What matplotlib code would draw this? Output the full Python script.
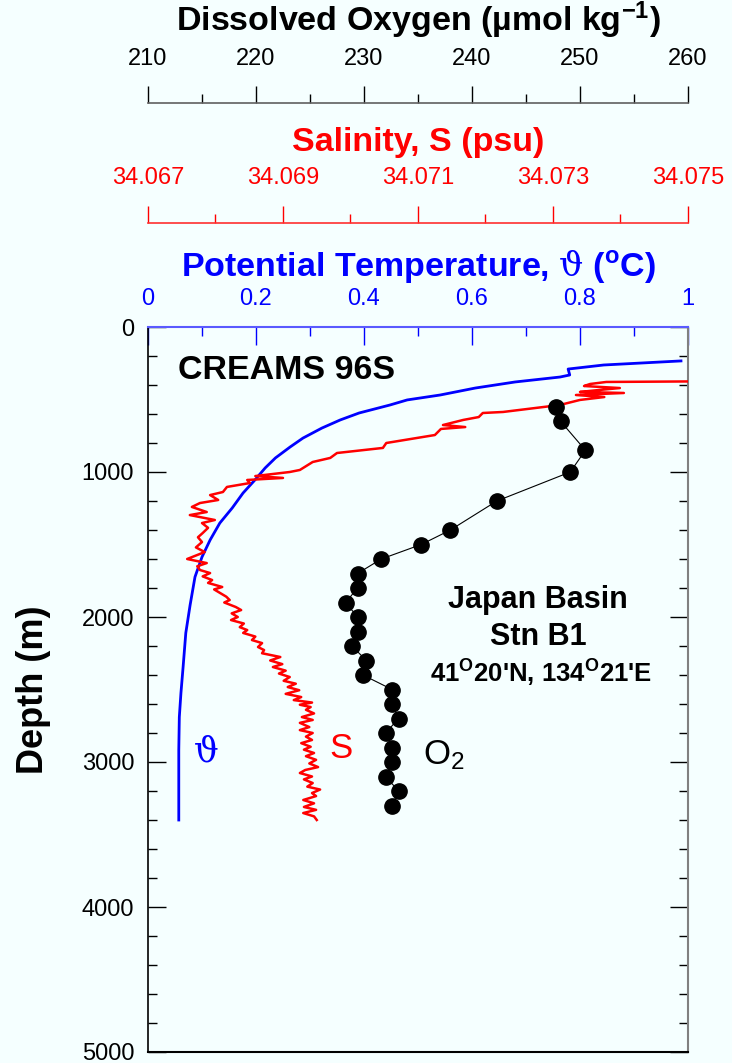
import matplotlib
matplotlib.use('Agg')
import matplotlib.pyplot as plt
from matplotlib.ticker import MultipleLocator, FixedLocator

plt.rcParams['font.family'] = ['Liberation Sans', 'DejaVu Sans']
plt.rcParams['mathtext.fontset'] = 'custom'
plt.rcParams['mathtext.rm'] = 'DejaVu Serif'
plt.rcParams['mathtext.sf'] = 'Liberation Sans'
plt.rcParams['mathtext.it'] = 'Liberation Sans:italic'
plt.rcParams['mathtext.bf'] = 'Liberation Sans:bold'

BG = '#F5FFFF'

# potential temperature profile (deg C vs depth m)
theta_depth = [234, 262, 290, 331, 345, 379, 421, 469, 503, 538, 593, 641, 697, 766, 828,
               903, 972, 1055, 1145, 1248, 1352, 1469, 1586, 1724, 1917, 2110, 2345, 2524,
               2690, 2917, 3400]
theta = [0.987, 0.844, 0.778, 0.781, 0.763, 0.680, 0.606, 0.541, 0.480, 0.448, 0.391, 0.356,
         0.322, 0.287, 0.263, 0.236, 0.217, 0.198, 0.176, 0.156, 0.133, 0.115, 0.100, 0.087,
         0.078, 0.070, 0.065, 0.061, 0.058, 0.057, 0.057]

# salinity profile (psu vs depth m)
sal_depth = [372, 379, 393, 407, 421, 435, 448, 455, 469, 483, 503, 538, 559, 586, 593, 621,
             641, 676, 690, 703, 745, 800, 834, 869, 903, 931, 986, 1000, 1028, 1041, 1055,
             1076, 1103, 1138, 1159, 1193, 1214, 1241, 1260, 1276, 1297, 1331, 1352, 1385,
             1421, 1450, 1483, 1520, 1552, 1600, 1628, 1650, 1676, 1697, 1720, 1745, 1765,
             1793, 1810, 1835, 1860, 1883, 1900, 1931, 1952, 1975, 2000, 2021, 2045, 2070,
             2090, 2110, 2135, 2159, 2180, 2207, 2228, 2250, 2276, 2300, 2325, 2345, 2370,
             2390, 2414, 2440, 2460, 2483, 2505, 2530, 2552, 2573, 2590, 2605, 2621, 2640,
             2665, 2690, 2710, 2730, 2759, 2780, 2800, 2825, 2848, 2870, 2895, 2915, 2938,
             2960, 2985, 3010, 3035, 3055, 3076, 3100, 3120, 3145, 3170, 3190, 3214, 3235,
             3262, 3285, 3310, 3330, 3352, 3375, 3400]
sal = [34.07620, 34.07379, 34.07355, 34.07346, 34.07399, 34.07367, 34.07340, 34.07405,
       34.07334, 34.07376, 34.07340, 34.07310, 34.07273, 34.07226, 34.07196, 34.07190,
       34.07167, 34.07137, 34.07170, 34.07134, 34.07125, 34.07053, 34.07048, 34.06980,
       34.06970, 34.06944, 34.06925, 34.06910, 34.06859, 34.06900, 34.06847, 34.06851,
       34.06817, 34.06811, 34.06792, 34.06804, 34.06777, 34.06765, 34.06777, 34.06787,
       34.06762, 34.06799, 34.06780, 34.06789, 34.06781, 34.06774, 34.06780, 34.06771,
       34.06784, 34.06758, 34.06787, 34.06773, 34.06777, 34.06792, 34.06781, 34.06795,
       34.06789, 34.06810, 34.06798, 34.06807, 34.06816, 34.06821, 34.06813, 34.06830,
       34.06838, 34.06824, 34.06833, 34.06823, 34.06842, 34.06836, 34.06847, 34.06841,
       34.06859, 34.06854, 34.06869, 34.06863, 34.06872, 34.06869, 34.06896, 34.06881,
       34.06899, 34.06885, 34.06904, 34.06894, 34.06910, 34.06901, 34.06919, 34.06907,
       34.06924, 34.06904, 34.06927, 34.06916, 34.06943, 34.06925, 34.06941, 34.06934,
       34.06946, 34.06928, 34.06944, 34.06925, 34.06939, 34.06925, 34.06944, 34.06934,
       34.06943, 34.06927, 34.06941, 34.06931, 34.06946, 34.06934, 34.06949, 34.06939,
       34.06952, 34.06933, 34.06925, 34.06943, 34.06931, 34.06944, 34.06936, 34.06955,
       34.06943, 34.06949, 34.06930, 34.06946, 34.06931, 34.06949, 34.06930, 34.06946,
       34.06950]

# dissolved oxygen bottle samples (umol/kg vs depth m)
oxy_depth = [550, 650, 850, 1000, 1200, 1400, 1500, 1600, 1700, 1800, 1900, 2000, 2100,
             2200, 2300, 2400, 2500, 2600, 2700, 2800, 2900, 3000, 3100, 3200, 3300]
oxy = [247.8, 248.2, 250.5, 249.1, 242.3, 238.0, 235.3, 231.6, 229.4, 229.4, 228.3, 229.4,
       229.4, 228.9, 230.2, 229.9, 232.6, 232.6, 233.2, 232.0, 232.6, 232.6, 232.0, 233.2,
       232.6]

sal_ticks = [34.067, 34.069, 34.071, 34.073, 34.075]
sal_minor = [34.068, 34.070, 34.072, 34.074]

W, H = 732, 1063
fig = plt.figure(figsize=(W / 100, H / 100), dpi=100, facecolor=BG)
ax = fig.add_axes([148 / W, 1 - 1052 / H, 540 / W, 725 / H])
ax.set_facecolor(BG)
ax2 = ax.twiny()
ax3 = ax.twiny()

# temperature on main axes
ax.plot(theta, theta_depth, color='#0000FF', lw=2.0, zorder=3)
ax.set_xlim(0, 1)
ax.set_ylim(5000, 0)
ax.xaxis.tick_top()
ax.xaxis.set_label_position('top')
ax.xaxis.set_major_locator(MultipleLocator(0.2))
ax.xaxis.set_minor_locator(MultipleLocator(0.1))
ax.xaxis.set_major_formatter(lambda v, p: '0' if abs(v) < 1e-9 else ('1' if abs(v - 1) < 1e-9 else f'{v:.1f}'))
ax.yaxis.set_major_locator(MultipleLocator(1000))
ax.yaxis.set_minor_locator(MultipleLocator(200))
ax.tick_params(axis='x', which='both', direction='in', colors='#0000FF', labelsize=17, pad=12,
               top=True, bottom=False, labeltop=True, labelbottom=False)
ax.tick_params(axis='x', which='major', length=13, width=1)
ax.tick_params(axis='x', which='minor', length=6.5, width=1)
ax.tick_params(axis='y', which='both', direction='in', right=True, left=True,
               labelsize=17, pad=10, width=1, color='black')
ax.tick_params(axis='y', which='major', length=13)
ax.tick_params(axis='y', which='minor', length=6.5)
ax.set_xlabel(r'Potential Temperature, $\mathrm{\vartheta}$ ($^{\mathbf{o}}$C)', color='#0000FF',
              fontsize=24.5, fontweight='bold', labelpad=9)
ax.set_ylabel('Depth (m)', fontsize=26, fontweight='bold', labelpad=22)
ax.spines['top'].set_color('#5A5AFF')
ax.spines['top'].set_linewidth(1.5)
ax.spines['left'].set_linewidth(1.2)
ax.spines['bottom'].set_linewidth(1.5)
ax.spines['right'].set_color('#808080')
ax.spines['right'].set_linewidth(1.5)

# salinity axis
ax2.plot(sal, sal_depth, color='#FF0000', lw=1.8, zorder=3)
ax2.set_xlim(34.067, 34.075)
ax2.set_ylim(5000, 0)
for s in ['left', 'right', 'bottom']:
    ax2.spines[s].set_visible(False)
ax2.spines['top'].set_position(('outward', 75))
ax2.spines['top'].set_color('#FF3030')
ax2.spines['top'].set_linewidth(1.2)
ax2.xaxis.set_major_locator(FixedLocator(sal_ticks))
ax2.xaxis.set_minor_locator(FixedLocator(sal_minor))
ax2.xaxis.set_major_formatter(lambda v, p: f'{v:.3f}')
ax2.tick_params(axis='x', which='both', direction='out', colors='#FF0000', labelsize=17, pad=11.5, width=1)
ax2.tick_params(axis='x', which='major', length=12.5)
ax2.tick_params(axis='x', which='minor', length=6.5)
ax2.set_xlabel('Salinity, S (psu)', color='#FF0000', fontsize=24.5, fontweight='bold', labelpad=12)

# oxygen axis
ax3.plot(oxy, oxy_depth, color='black', lw=0.8, marker='o', ms=11, mfc='black', mec='black', zorder=4)
ax3.set_xlim(210, 260)
ax3.set_ylim(5000, 0)
for s in ['left', 'right', 'bottom']:
    ax3.spines[s].set_visible(False)
ax3.spines['top'].set_position(('outward', 161))
ax3.spines['top'].set_color('#606060')
ax3.spines['top'].set_linewidth(1.2)
ax3.xaxis.set_major_locator(MultipleLocator(10))
ax3.xaxis.set_minor_locator(MultipleLocator(5))
ax3.tick_params(axis='x', which='both', direction='out', colors='black', labelsize=17, pad=11.5, width=1)
ax3.tick_params(axis='x', which='major', length=12.5)
ax3.tick_params(axis='x', which='minor', length=6.5)
ax3.set_xlabel(r'Dissolved Oxygen (µmol kg$^{\mathbf{-1}}$)', fontsize=24.5,
               fontweight='bold', labelpad=12)

# annotations
ax.text(0.056, 297, 'CREAMS 96S', fontsize=24.5, fontweight='bold', va='center', ha='left')
ax.text(0.722, 1883, 'Japan Basin', fontsize=22, fontweight='bold', ha='center', va='center')
ax.text(0.722, 2138, 'Stn B1', fontsize=22, fontweight='bold', ha='center', va='center')
ax.text(0.728, 2390, r"41$^{\mathbf{O}}$20'N, 134$^{\mathbf{O}}$21'E", fontsize=18.5,
        fontweight='bold', ha='center', va='center')
ax.text(0.107, 2931, r'$\mathrm{\vartheta}$', fontsize=25, color='#0000FF', ha='center', va='center')
ax.text(0.357, 2910, 'S', fontsize=25, color='#FF0000', ha='center', va='center')
ax.text(0.509, 2950, r'O$_{\mathsf{2}}$', fontsize=25, color='black', ha='left', va='center')

fig.savefig('out.png', dpi=100, facecolor=BG)
